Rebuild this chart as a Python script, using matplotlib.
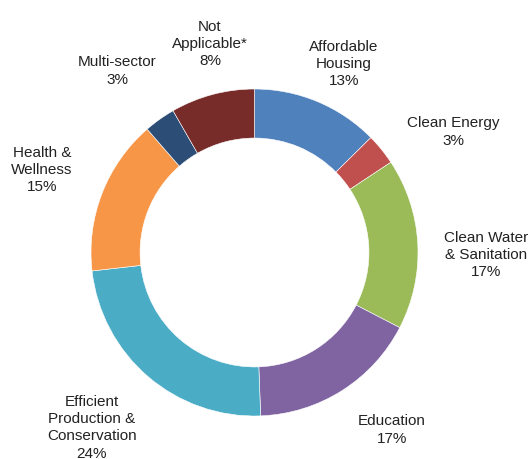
import matplotlib.pyplot as plt

plt.rcParams["font.family"] = ["Liberation Sans", "DejaVu Sans"]

# sector shares (percent), clockwise from 12 o'clock
sectors = ["Affordable\nHousing", "Clean Energy", "Clean Water\n& Sanitation",
           "Education", "Efficient\nProduction &\nConservation",
           "Health &\nWellness", "Multi-sector", "Not\nApplicable*"]
shares = [12.6, 3.1, 16.9, 16.8, 23.8, 15.4, 3.1, 8.3]
colors = ["#4F81BD", "#C0504D", "#9BBB59", "#8064A2",
          "#4BACC6", "#F79646", "#2C4D75", "#772C2A"]

# label centres (data units, pie radius = 1)
label_xy = [(0.547, 1.153), (1.214, 0.737), (1.418, -0.015), (0.841, -1.086),
            (-0.994, -1.072), (-1.300, 0.505), (-0.841, 1.110), (-0.272, 1.275)]

fig = plt.figure(figsize=(5.32, 4.59), dpi=100)
ax = fig.add_axes([0, 0, 1, 1])

ax.pie(shares, colors=colors, startangle=90, counterclock=False, radius=1.0,
       wedgeprops=dict(width=0.3, edgecolor="white", linewidth=0.4))

for name, val, (x, y) in zip(sectors, shares, label_xy):
    ax.text(x, y, "%s\n%d%%" % (name, round(val)), ha="center", va="center",
            fontsize=11, color="#222222", linespacing=1.3)

ax.set_xlim(-1.5566, 1.6972)
ax.set_ylim(-1.263, 1.5443)
ax.set_aspect("auto")
ax.axis("off")

fig.savefig("out.png", dpi=100)
